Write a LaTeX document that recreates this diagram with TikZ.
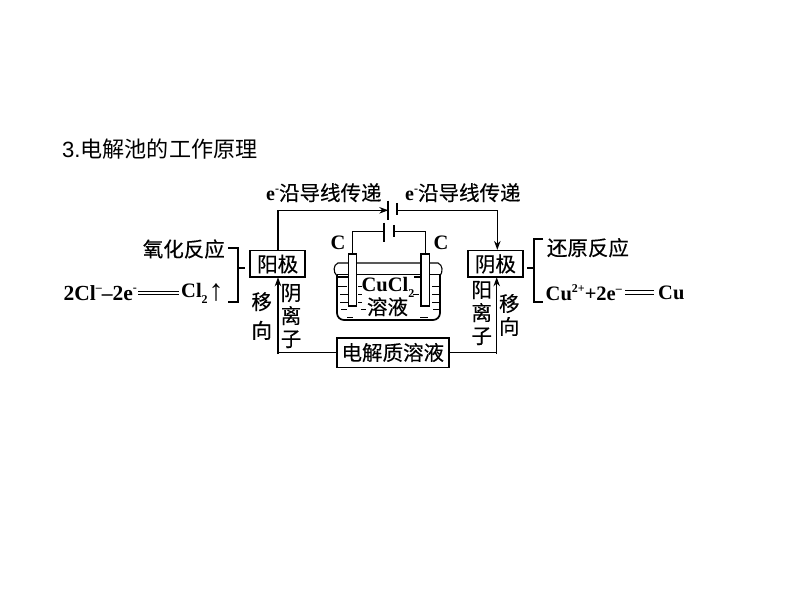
\documentclass[tikz,border=0pt]{standalone}
\usepackage{fontspec}
\setmainfont{Liberation Serif}[BoldFont={Liberation Serif Bold}]
\newfontfamily\cjkf[FakeBold=0.35]{Noto Sans CJK SC}
\newfontfamily\cjkt{Noto Sans CJK SC}
\newfontfamily\titlef{Liberation Sans}
\usetikzlibrary{arrows.meta,calc}
\newcommand{\sps}[1]{\raisebox{0.42em}{\fontsize{12}{12}\selectfont #1}}
\newcommand{\sbs}[1]{\raisebox{-0.3em}{\fontsize{12}{12}\selectfont #1}}
\tikzset{
  cn/.style={inner sep=0pt,font=\cjkf\fontsize{20.5}{23}\selectfont,align=center},
  lat/.style={inner sep=0pt,font=\bfseries\fontsize{20.5}{22}\selectfont},
  tbox/.style={draw,line width=1.6pt,inner sep=0pt,font=\cjkf\fontsize{20.5}{23}\selectfont},
  wire/.style={line width=1.2pt},
  wirea/.style={line width=1.2pt,-{Stealth[length=9pt,width=6.5pt]}},
  plate/.style={line width=1.7pt},
  rod/.style={draw,line width=1.1pt,fill=white,inner sep=0pt,minimum width=8.4pt,minimum height=52pt},
  eqq/.style={line width=1.1pt},
  dsh/.style={line width=0.9pt}
}
\begin{document}
\begin{tikzpicture}[x=1pt,y=-1pt]
\path[use as bounding box,fill=white] (0,0) rectangle (794,593);
% title
\node[anchor=west,inner sep=0pt,font=\fontsize{22.1}{24}\selectfont] (title) at (62,149) {{\titlef 3.}{\cjkt 电解池的工作原理}};
% boxes
\node[tbox,minimum width=55pt,minimum height=26.6pt] (anode) at (277.7,264) {阳极};
\node[tbox,minimum width=55.3pt,minimum height=26.6pt] (cathode) at (495.4,264) {阴极};
\node[tbox,minimum width=112pt,minimum height=29.6pt] (elec) at (392.8,352.5) {电解质溶液};
% top batteries
\coordinate (b1l) at (388.3,210.3);
\coordinate (b1r) at (397.3,210.3);
\draw[plate] (388.3,200.7) -- (388.3,220);
\draw[plate] (397.3,203) -- (397.3,215);
\draw[wirea] (anode.north -| 278,0) |- (b1l);
\draw[wirea] (b1r) -| (cathode.north -| 497.3,0);
\draw[wire] (elec.west) -| (278,300);
\draw[wirea] (278,354) -- (278,277.3);
\draw[wirea] (496.7,354) -- (496.7,277.3);
\draw[wire] (elec.east) -- (496.7,352.5);
% beaker
\draw[line width=1.1pt] (337,276) .. controls (333,272) and (333,265) .. (338,263) -- (438,263) .. controls (443,265) and (443,272) .. (440,276);
\draw[line width=1.7pt,rounded corners=7pt] (337,275) -- (337,320) -- (440,320) -- (440,275);
\draw[line width=0.9pt] (337,274.5) -- (440,274.5);
\draw[line width=2.2pt] (338,277) -- (348,277) (414,277) -- (430,277);
% dashes in liquid
\foreach \a/\b/\y in {338/347/286,340/348/294.5,340/348/302.5,347/353/317,358/362/286,358/362/294.5,358/362/302.5,432/440/286,432/440/294.5,432/440/302.5,433/440/309.5,420/428/317,341/347/309.5,361/366/309.5,413/419/294.5}
  \draw[dsh] (\a,\y) -- (\b,\y);
% electrodes
\node[rod] (rodl) at (352.5,280) {};
\node[rod] (rodr) at (425.2,280) {};
% second battery
\coordinate (b2l) at (384.3,231.7);
\coordinate (b2r) at (394.3,231.7);
\draw[plate] (384.3,222.7) -- (384.3,241.7);
\draw[plate] (394.3,225) -- (394.3,236.7);
\draw[wire,line width=1.4pt] (b2l) -| (rodl.north);
\draw[wire,line width=1.4pt] (b2r) -| (rodr.north);
% texts
\node[lat] (cl) at (338,242.7) {C};
\node[lat] (cr) at (441,242.7) {C};
\node[lat] (cucl) at (388,287) {CuCl\sbs{2}};
\node[cn] (rongye) at (387.5,306.7) {溶液};
\node[inner sep=0pt,anchor=west] (topl) at (266,192.7) {{\bfseries\fontsize{20}{22}\selectfont e\sps{-}}{\cjkf\fontsize{20.5}{23}\selectfont 沿导线传递}};
\node[inner sep=0pt,anchor=west] (topr) at (405,192.7) {{\bfseries\fontsize{20}{22}\selectfont e\sps{-}}{\cjkf\fontsize{20.5}{23}\selectfont 沿导线传递}};
\node[cn,anchor=east] (ox) at (225,249) {氧化反应};
\node[cn,anchor=west] (red) at (546.7,247.7) {还原反应};
% left equation
\node[lat,anchor=east,font=\bfseries\fontsize{21.5}{22}\selectfont] (eql) at (137,293) {2Cl\sps{–}–2e\sps{-}};
\node[lat,anchor=west] (eqr) at (181,293) {Cl\sbs{2}};
\draw[eqq] ($(eql.east)+(1,-1.8)$) -- ($(eqr.west)+(-2,-1.8)$);
\draw[eqq] ($(eql.east)+(1,1.8)$) -- ($(eqr.west)+(-2,1.8)$);
\node[inner sep=0pt,font=\bfseries\fontsize{30}{32}\selectfont] (up) at (216,293) {↑};
% right equation
\node[lat,anchor=east] (eq2l) at (622,292.7) {Cu\sps{2+}+2e\sps{–}};
\node[lat,anchor=west] (eq2r) at (658,292.7) {Cu};
\draw[eqq] ($(eq2l.east)+(3,-1.8)$) -- ($(eq2r.west)+(-4,-1.8)$);
\draw[eqq] ($(eq2l.east)+(3,1.8)$) -- ($(eq2r.west)+(-4,1.8)$);
% brackets
\draw[line width=1.4pt] (228,248) -- (238,248) -- (238,302) -- (228,302);
\draw[line width=1.4pt] (238,268) -- (245,268);
\draw[line width=1.4pt] (543,239) -- (534,239) -- (534,302) -- (543,302);
\draw[line width=1.4pt] (534,268) -- (527,268);
% vertical labels
\node[cn,font=\cjkf\fontsize{20.5}{28.7}\selectfont] (ml) at (261.7,316) {移\\向};
\node[cn] (yl) at (291,316) {阴\\离\\子};
\node[cn] (yr) at (481.7,313) {阳\\离\\子};
\node[cn] (mr) at (509.3,315) {移\\向};
\end{tikzpicture}
\end{document}
